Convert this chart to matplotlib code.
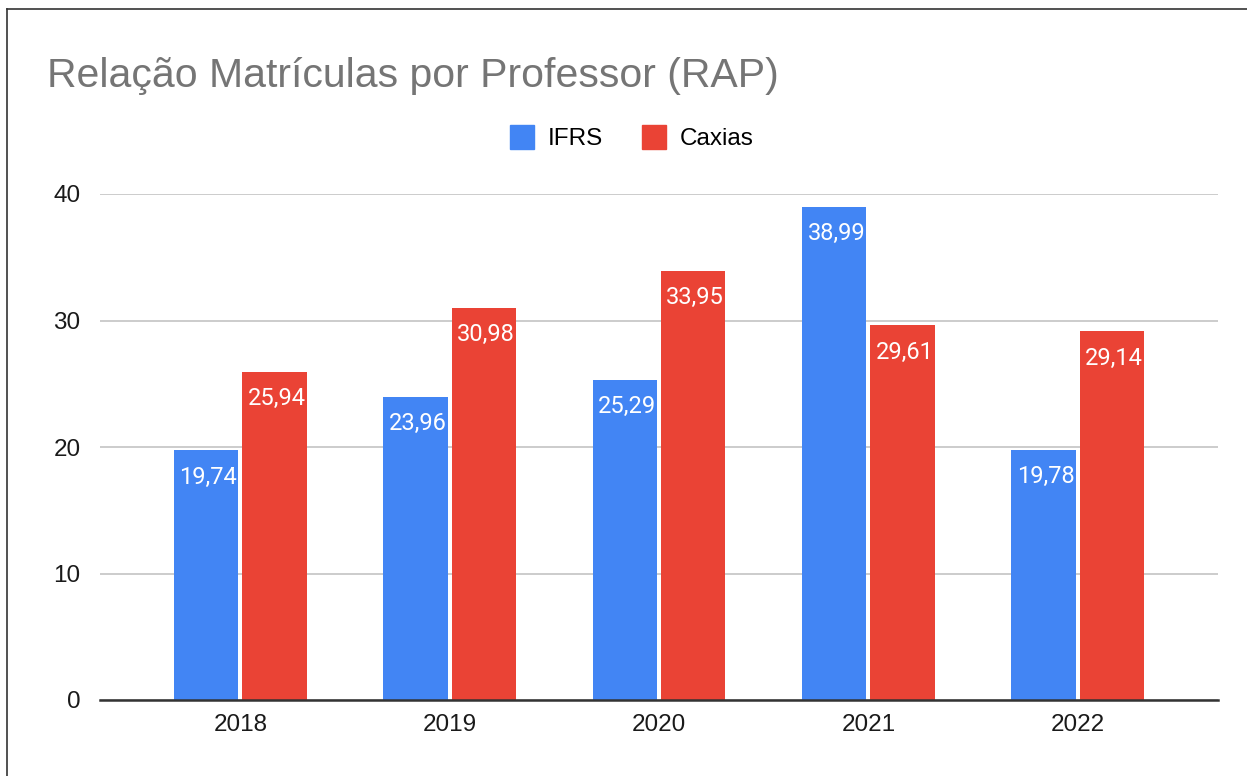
import numpy as np
import matplotlib.pyplot as plt
from matplotlib.lines import Line2D

anos = ["2018", "2019", "2020", "2021", "2022"]
ifrs = [19.74, 23.96, 25.29, 38.99, 19.78]
caxias = [25.94, 30.98, 33.95, 29.61, 29.14]

azul = "#4285F4"
vermelho = "#EA4335"

plt.rcParams['font.family'] = ['Liberation Sans', 'DejaVu Sans']

fig = plt.figure(figsize=(12.47, 7.76), dpi=100)
ax = fig.add_axes([100 / 1247, 76 / 776, 1118 / 1247, 506 / 776])

x = np.arange(len(anos))
largura = 0.307
desloc = 0.163

b1 = ax.bar(x - desloc, ifrs, largura, color=azul, label="IFRS", zorder=3)
b2 = ax.bar(x + desloc, caxias, largura, color=vermelho, label="Caxias", zorder=3)

def rotular(barras, valores):
    for barra, v in zip(barras, valores):
        ax.text(barra.get_x() + barra.get_width() / 2 + 0.01, v - 1.2,
                f"{v:.2f}".replace(".", ","), ha="center", va="top",
                color="white", fontsize=17, family=["Roboto", "DejaVu Sans"],
                zorder=4)

rotular(b1, ifrs)
rotular(b2, caxias)

ax.set_xlim(-0.67, 4.67)
ax.set_ylim(0, 40)
ax.set_yticks([0, 10, 20, 30, 40])
ax.set_xticks(x)
ax.set_xticklabels(anos)
ax.tick_params(axis="both", length=0, labelsize=17.5, colors="#1a1a1a")
ax.tick_params(axis="y", pad=14)
ax.tick_params(axis="x", pad=10)
ax.grid(axis="y", color="#cccccc", linewidth=1.4, zorder=0)
ax.set_axisbelow(True)
for lado in ["top", "right", "left"]:
    ax.spines[lado].set_visible(False)
ax.spines["bottom"].set_color("#333333")
ax.spines["bottom"].set_linewidth(1.8)
ax.spines["bottom"].set_zorder(5)

fig.text(47 / 1247, 1 - 76 / 776, "Relação Matrículas por Professor (RAP)",
         fontsize=29.5, color="#757575", va="center", ha="left")

handles = [Line2D([], [], marker="s", linestyle="none", markersize=17,
                  markerfacecolor=azul, markeredgecolor=azul),
           Line2D([], [], marker="s", linestyle="none", markersize=17,
                  markerfacecolor=vermelho, markeredgecolor=vermelho)]
fig.legend(handles, ["IFRS", "Caxias"], loc="center",
           bbox_to_anchor=(632 / 1247, 1 - 139 / 776), ncol=2, frameon=False,
           fontsize=17.5, handletextpad=0.55, columnspacing=1.6,
           handlelength=1.0)

# moldura superior e esquerda
fig.add_artist(Line2D([7 / 1247, 7 / 1247], [0, 1 - 9 / 776],
                      transform=fig.transFigure, color="#333333", linewidth=1.2))
fig.add_artist(Line2D([7 / 1247, 1], [1 - 9 / 776, 1 - 9 / 776],
                      transform=fig.transFigure, color="#333333", linewidth=1.2))

fig.savefig("out.png", dpi=100, facecolor="white")
